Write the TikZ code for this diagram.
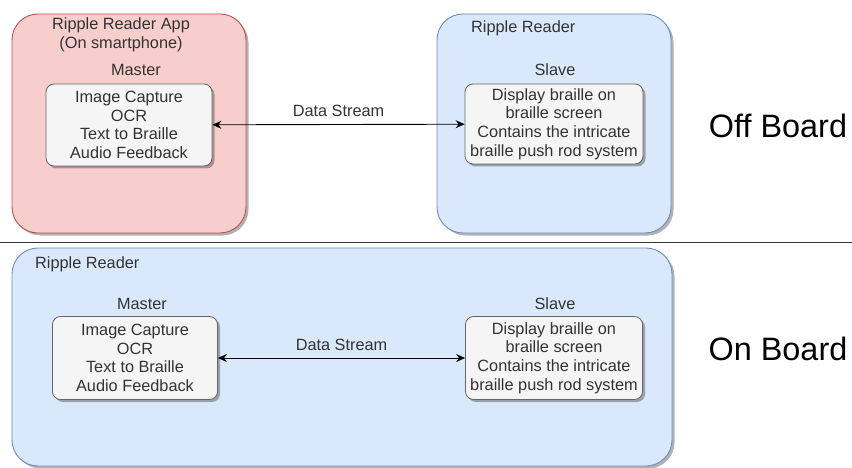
\documentclass[tikz,border=0pt]{standalone}
\usepackage{fontspec}
\setmainfont{Liberation Sans}
\usepackage{xcolor}
\usetikzlibrary{arrows, arrows.meta}
\usetikzlibrary{shadows}
\definecolor{pinkfill}{HTML}{F8CECC}
\definecolor{pinkline}{HTML}{B85450}
\definecolor{bluefill}{HTML}{DAE8FC}
\definecolor{blueline}{HTML}{6C8EBF}
\definecolor{greyfill}{HTML}{F5F5F5}
\definecolor{greyline}{HTML}{666666}
\definecolor{textgrey}{HTML}{333333}

\begin{document}
\begin{tikzpicture}[x=1pt, y=-1pt,
    shade/.style={drop shadow={shadow xshift=2.5pt, shadow yshift=-2.5pt, opacity=0.3, fill=black}},
    device/.style={rounded corners=26pt, line width=0.9pt, shade},
    unit/.style={draw=greyline, fill=greyfill, rounded corners=8pt, line width=0.8pt, shade,
      align=center, inner sep=0pt, text=textgrey, font=\fontsize{16.3}{18.7}\selectfont},
    lbl/.style={text=textgrey, font=\fontsize{16.3}{18.7}\selectfont, inner sep=0pt},
    big/.style={font=\fontsize{32.4}{38}\selectfont, inner sep=0pt},
    link/.style={{Stealth[length=9pt, width=8pt]}-{Stealth[length=9pt, width=8pt]}, line width=0.9pt}]
    \useasboundingbox (0,0) rectangle (852,468);

    % off board: app and reader
    \draw[device, draw=pinkline, fill=pinkfill] (12,14) rectangle (246,233);
    \draw[device, draw=blueline, fill=bluefill] (437,14) rectangle (671,233);
    \node[lbl, align=center] (app) at (121,35) {Ripple Reader App\\(On smartphone)};
    \node[lbl, anchor=west] (reader1) at (471,28) {Ripple Reader};
    \node[lbl] (mlabel1) at (136,70) {Master};
    \node[lbl] (slabel1) at (555,70) {Slave};
    \node[unit, minimum width=166pt, minimum height=82pt] (master1) at (129,125) {Image Capture\\OCR\\Text to Braille\\Audio Feedback};
    \node[unit, minimum width=178pt, minimum height=80pt] (slave1) at (554,124) {Display braille on\\braille screen\\Contains the intricate\\braille push rod system};
    \draw[link] (master1) -- node[lbl, above=7pt] (stream1) {Data Stream} (slave1);
    \node[big] (off) at (778,126) {Off Board};

    \draw[draw=textgrey, line width=1pt] (0,242) -- (852,242);

    % on board: everything in the reader
    \draw[device, draw=blueline, fill=bluefill] (12,248) rectangle (672,466);
    \node[lbl, anchor=west] (reader2) at (35,264) {Ripple Reader};
    \node[lbl] (mlabel2) at (142,304) {Master};
    \node[lbl] (slabel2) at (555,304) {Slave};
    \node[unit, minimum width=165pt, minimum height=83pt] (master2) at (135,358) {Image Capture\\OCR\\Text to Braille\\Audio Feedback};
    \node[unit, minimum width=177pt, minimum height=83pt] (slave2) at (554,358) {Display braille on\\braille screen\\Contains the intricate\\braille push rod system};
    \draw[link] (master2) -- node[lbl, above=7pt] (stream2) {Data Stream} (slave2);
    \node[big] (on) at (778,349) {On Board};
\end{tikzpicture}
\end{document}
